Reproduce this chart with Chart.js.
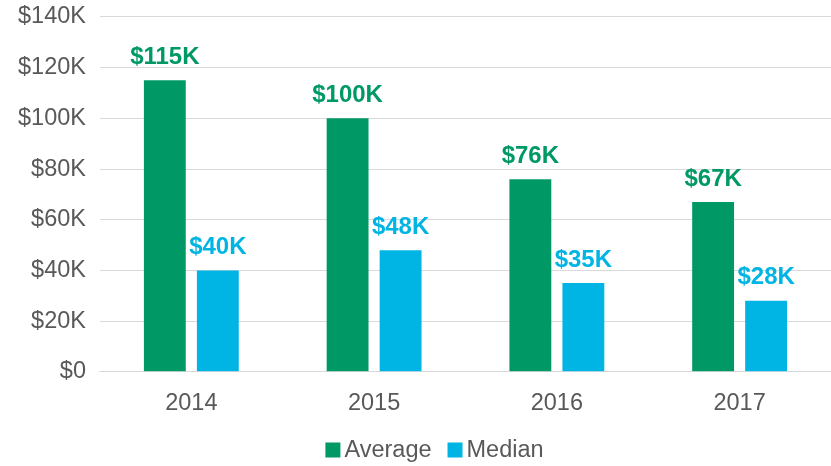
<!DOCTYPE html>
<html>
<head>
<meta charset="utf-8">
<script src="https://cdn.jsdelivr.net/npm/chart.js@4/dist/chart.umd.min.js"></script>
<style>
  html, body { margin: 0; padding: 0; background: #fff; }
  #wrap { width: 831px; height: 466px; }
</style>
</head>
<body>
<div id="wrap"><canvas id="myBarChart"></canvas></div>
<script>
// chart data
var years = ['2014', '2015', '2016', '2017'];
var averageValues = [115000, 100000, 76000, 67000];
var medianValues = [40000, 48000, 35000, 28000];
var yTicks = [0, 20000, 40000, 60000, 80000, 100000, 120000, 140000];

var green = '#009966';
var blue = '#00B4E4';
var fontFamily = '"Liberation Sans", Arial, sans-serif';

function money(v) {
  return v === 0 ? '$0' : '$' + Math.round(v / 1000) + 'K';
}

// simple label plugin, draws the value above each bar
var barLabels = {
  id: 'barLabels',
  afterDatasetsDraw: function (chart) {
    var ctx = chart.ctx;
    ctx.save();
    ctx.font = 'bold 24px ' + fontFamily;
    ctx.textAlign = 'center';
    ctx.textBaseline = 'bottom';
    chart.data.datasets.forEach(function (ds, i) {
      var meta = chart.getDatasetMeta(i);
      ctx.fillStyle = ds.backgroundColor;
      meta.data.forEach(function (bar, j) {
        ctx.fillText(money(ds.data[j]), bar.x, bar.y - 11);
      });
    });
    ctx.restore();
  }
};

// legend drawn by hand so the box/text spacing matches the original
var bottomLegend = {
  id: 'bottomLegend',
  afterDraw: function (chart) {
    var ctx = chart.ctx;
    var box = 15, gap = 4, itemGap = 16;
    ctx.save();
    ctx.font = '23.5px ' + fontFamily;
    ctx.textBaseline = 'middle';
    var sets = chart.data.datasets;
    var total = 0;
    sets.forEach(function (ds, i) {
      total += box + gap + ctx.measureText(ds.label).width;
      if (i < sets.length - 1) total += itemGap;
    });
    var x = chart.width / 2 + 19 - total / 2;
    var y = 451;
    sets.forEach(function (ds) {
      ctx.fillStyle = ds.backgroundColor;
      ctx.fillRect(x, y - box / 2 - 1, box, box);
      x += box + gap;
      ctx.fillStyle = '#595959';
      ctx.fillText(ds.label, x, y);
      x += ctx.measureText(ds.label).width + itemGap;
    });
    ctx.restore();
  }
};

document.addEventListener('DOMContentLoaded', function () {
  var ctx = document.getElementById('myBarChart').getContext('2d');
  new Chart(ctx, {
    type: 'bar',
    data: {
      labels: years,
      datasets: [
        { label: 'Average', data: averageValues, backgroundColor: green },
        { label: 'Median', data: medianValues, backgroundColor: blue }
      ]
    },
    plugins: [barLabels, bottomLegend],
    options: {
      responsive: true,
      maintainAspectRatio: false,
      animation: false,
      categoryPercentage: 0.58,
      barPercentage: 0.79,
      layout: { padding: { top: 0, right: 0, left: 4, bottom: 38 } },
      plugins: {
        legend: { display: false },
        tooltip: { enabled: false }
      },
      scales: {
        x: {
          grid: { display: false },
          border: { color: '#d9d9d9', width: 1 },
          ticks: {
            color: '#595959',
            padding: 10,
            font: { family: fontFamily, size: 23.5 }
          }
        },
        y: {
          min: 0,
          max: 140000,
          afterBuildTicks: function (axis) {
            axis.ticks = yTicks.map(function (v) { return { value: v }; });
          },
          border: { display: false },
          grid: { color: '#d9d9d9', drawTicks: false },
          ticks: {
            color: '#595959',
            padding: 14,
            font: { family: fontFamily, size: 23.5, lineHeight: 0.25 },
            callback: function (v) { return money(v); }
          }
        }
      }
    }
  });
});
</script>
</body>
</html>
